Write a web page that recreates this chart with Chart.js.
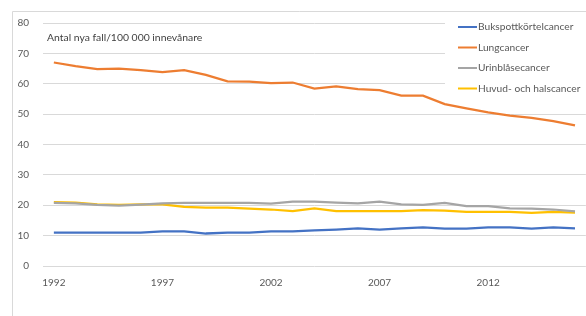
<!DOCTYPE html>
<html>
<head>
<meta charset="utf-8">
<script src="https://cdn.jsdelivr.net/npm/chart.js@4"></script>
<style>
  html, body { margin: 0; padding: 0; background: #fff; }
  #wrap { width: 586px; height: 316px; }
</style>
</head>
<body>
<div id="wrap"><canvas id="cancerChart" width="586" height="316"></canvas></div>
<script>
// Årtal (kategorier)
const years = [];
for (let y = 1992; y <= 2016; y++) years.push(String(y));

// Antal nya fall per 100 000 invånare
const bukspott = [11.0, 11.0, 11.0, 11.0, 11.0, 11.4, 11.4, 10.7, 11.0, 11.0, 11.4, 11.4, 11.7,
                  12.0, 12.4, 12.0, 12.4, 12.7, 12.3, 12.3, 12.7, 12.7, 12.3, 12.7, 12.4];
const lung = [67.0, 65.8, 64.8, 65.0, 64.5, 63.8, 64.5, 62.9, 60.8, 60.7, 60.2, 60.4, 58.4,
              59.1, 58.2, 57.9, 56.1, 56.1, 53.3, 51.9, 50.6, 49.5, 48.8, 47.7, 46.3];
const urinblase = [20.8, 20.6, 20.1, 19.9, 20.2, 20.6, 20.8, 20.8, 20.8, 20.8, 20.5, 21.2, 21.2,
                   20.9, 20.6, 21.2, 20.3, 20.1, 20.8, 19.7, 19.7, 19.0, 18.9, 18.6, 18.0];
const huvudHals = [21.0, 20.9, 20.3, 20.1, 20.3, 20.3, 19.5, 19.2, 19.2, 18.9, 18.6, 18.1, 19.0,
                   18.1, 18.1, 18.1, 18.1, 18.4, 18.2, 17.8, 17.8, 17.8, 17.5, 17.8, 17.6];

const seriesNames = ['Bukspottkörtelcancer', 'Lungcancer', 'Urinblåsecancer', 'Huvud- och halscancer'];
const yTicks = [0, 10, 20, 30, 40, 50, 60, 70, 80];
const shownYears = ['1992', '1997', '2002', '2007', '2012'];
const title = 'Antal nya fall/100 000 innevånare';

const colors = ['#4472C4', '#ED7D31', '#A5A5A5', '#FFC000'];
const FONT = 'Lato, "Open Sans", sans-serif';

// Ram runt diagrammet (vänster + topp)
const framePlugin = {
    id: 'frame',
    beforeDraw(chart) {
        const c = chart.ctx;
        c.save();
        c.strokeStyle = '#d9d9d9';
        c.lineWidth = 1;
        c.beginPath();
        c.moveTo(12.5, 316);
        c.lineTo(12.5, 11.5);
        c.lineTo(586, 11.5);
        c.stroke();
        c.restore();
    }
};

// Rubrik och förklaring inne i ritytan
const overlayPlugin = {
    id: 'overlay',
    afterDraw(chart) {
        const c = chart.ctx;
        c.save();
        c.fillStyle = '#404040';
        c.font = '10.4px ' + FONT;
        c.textBaseline = 'middle';
        c.fillText(title, 47, 38);

        c.fillStyle = '#ffffff';
        c.fillRect(445, 16, 141, 82);

        chart.data.datasets.forEach((ds, i) => {
            const y = 27 + i * 20.5;
            c.strokeStyle = ds.borderColor;
            c.lineWidth = 2;
            c.beginPath();
            c.moveTo(458, y);
            c.lineTo(477, y);
            c.stroke();
            c.fillStyle = '#595959';
            c.font = '10.2px ' + FONT;
            c.textBaseline = 'middle';
            c.fillText(ds.label, 478, y);
        });
        c.restore();
    }
};

const allSeries = [bukspott, lung, urinblase, huvudHals];

new Chart(document.getElementById('cancerChart').getContext('2d'), {
    type: 'line',
    data: {
        labels: years,
        datasets: allSeries.map((vals, i) => ({
            label: seriesNames[i],
            data: vals,
            borderColor: colors[i],
            backgroundColor: colors[i],
            borderWidth: 2.25,
            pointRadius: 0,
            tension: 0,
            fill: false
        }))
    },
    options: {
        responsive: false,
        animation: false,
        layout: { padding: { top: 23, right: 0, left: 0, bottom: 0 } },
        plugins: {
            legend: { display: false },
            tooltip: { enabled: false }
        },
        scales: {
            x: {
                type: 'category',
                offset: true,
                grid: { display: false, drawTicks: false },
                border: { display: false },
                ticks: {
                    autoSkip: false,
                    maxRotation: 0,
                    padding: 11,
                    color: '#595959',
                    font: { family: FONT, size: 10 },
                    callback: function (val) {
                        const lbl = this.getLabelForValue(val);
                        return shownYears.includes(lbl) ? lbl : '';
                    }
                },
                afterFit: (scale) => { scale.height = 50; }
            },
            y: {
                min: 0,
                max: 80,
                afterBuildTicks: (scale) => { scale.ticks = yTicks.map(v => ({ value: v })); },
                grid: { color: '#d9d9d9', lineWidth: 1, drawTicks: false },
                border: { display: false },
                ticks: {
                    padding: 14,
                    color: '#595959',
                    font: { family: FONT, size: 10 }
                },
                afterFit: (scale) => { scale.width = 43; }
            }
        }
    },
    plugins: [framePlugin, overlayPlugin]
});
</script>
</body>
</html>
